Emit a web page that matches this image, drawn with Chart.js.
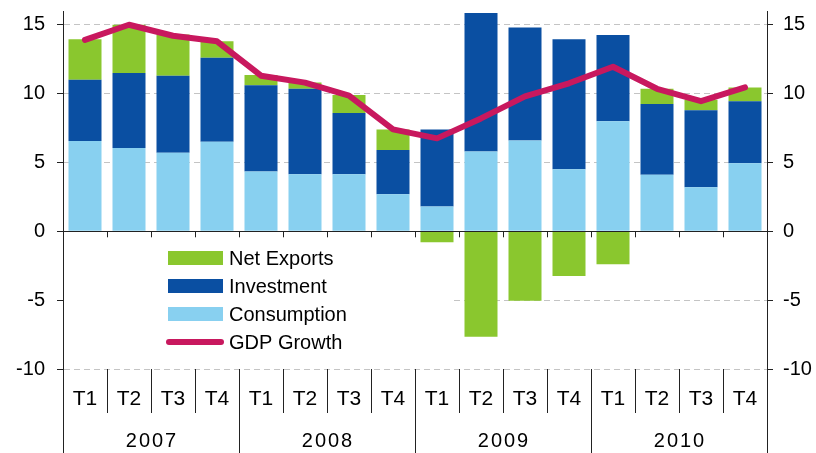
<!DOCTYPE html>
<html>
<head>
<meta charset="utf-8">
<script src="https://cdn.jsdelivr.net/npm/chart.js@4.4.1/dist/chart.umd.min.js"></script>
<style>
  html, body { margin: 0; padding: 0; background: #fff; }
  #wrap { width: 816px; height: 453px; }
</style>
</head>
<body>
<div id="wrap"><canvas id="gdp_chart"></canvas></div>
<script>
const QUARTERS = ['T1','T2','T3','T4','T1','T2','T3','T4','T1','T2','T3','T4','T1','T2','T3','T4'];
const YEARS = ['2007', '2008', '2009', '2010'];

// contributions to growth
const CONSUMPTION = [6.55, 6.05, 5.7, 6.5, 4.35, 4.15, 4.15, 2.7, 1.8, 5.8, 6.6, 4.5, 8.0, 4.1, 3.2, 4.95];
const INVESTMENT  = [4.45, 5.45, 5.6, 6.1, 6.25, 6.2, 4.45, 3.2, 5.6, 10.05, 8.2, 9.45, 6.25, 5.15, 5.6, 4.5];
const NET_EXPORTS = [2.95, 3.5, 3.0, 1.2, 0.75, 0.45, 1.3, 1.5, -0.8, -7.65, -5.05, -3.25, -2.4, 1.1, 0.75, 1.0];
const GDP_GROWTH  = [13.9, 15.0, 14.2, 13.8, 11.3, 10.8, 9.85, 7.4, 6.75, 8.2, 9.8, 10.75, 11.95, 10.35, 9.45, 10.45];

const Y_TICKS = [-10, -5, 0, 5, 10, 15];

const GREEN = '#8AC72E';
const DARK_BLUE = '#0A4FA2';
const LIGHT_BLUE = '#88D0F0';
const LINE_RED = '#C8185E';
const FONT = "'Liberation Sans', Arial, sans-serif";

const LEGEND = [
  { label: 'Net Exports', color: GREEN, type: 'box' },
  { label: 'Investment', color: DARK_BLUE, type: 'box' },
  { label: 'Consumption', color: LIGHT_BLUE, type: 'box' },
  { label: 'GDP Growth', color: LINE_RED, type: 'line' },
];

// legend box sits inside the plot and hides the grid behind it
const legendPlugin = {
  id: 'insideLegend',
  beforeDatasetsDraw(chart) {
    const ctx = chart.ctx;
    const a = chart.chartArea;
    ctx.save();
    ctx.fillStyle = '#fff';
    ctx.fillRect(a.left + 1, 239, 452 - a.left, 122);
    ctx.font = '20px ' + FONT;
    ctx.textBaseline = 'middle';
    ctx.textAlign = 'left';
    LEGEND.forEach((item, i) => {
      const cy = 258 + i * 28;
      if (item.type === 'box') {
        ctx.fillStyle = item.color;
        ctx.fillRect(168, cy - 7, 55, 14);
      } else {
        ctx.strokeStyle = item.color;
        ctx.lineWidth = 6;
        ctx.lineCap = 'round';
        ctx.beginPath();
        ctx.moveTo(169, cy);
        ctx.lineTo(221, cy);
        ctx.stroke();
      }
      ctx.fillStyle = '#000';
      ctx.fillText(item.label, 229, cy + 1);
    });
    ctx.restore();
  }
};

// zero line, quarter / year separators and year labels
const axisPlugin = {
  id: 'quarterAxis',
  afterDraw(chart) {
    const ctx = chart.ctx;
    const a = chart.chartArea;
    const x = chart.scales.x;
    const y0 = chart.scales.y.getPixelForValue(0);
    const w = (a.right - a.left) / QUARTERS.length;
    const H = chart.height;
    ctx.save();
    ctx.strokeStyle = '#222';
    ctx.lineWidth = 1;
    ctx.beginPath();
    ctx.moveTo(a.left, Math.round(y0) + 0.5);
    ctx.lineTo(a.right, Math.round(y0) + 0.5);
    for (let k = 1; k < QUARTERS.length; k++) {
      const px = Math.round(a.left + k * w) + 0.5;
      ctx.moveTo(px, y0);
      ctx.lineTo(px, y0 + 6);
      ctx.moveTo(px, a.bottom);
      ctx.lineTo(px, k % 4 === 0 ? H : a.bottom + 44);
    }
    ctx.moveTo(Math.round(a.left) + 0.5, a.bottom);
    ctx.lineTo(Math.round(a.left) + 0.5, H);
    ctx.moveTo(Math.round(a.right) + 0.5, a.bottom);
    ctx.lineTo(Math.round(a.right) + 0.5, H);
    ctx.stroke();

    ctx.fillStyle = '#000';
    ctx.font = '20px ' + FONT;
    ctx.letterSpacing = '2px';
    ctx.textAlign = 'center';
    ctx.textBaseline = 'middle';
    YEARS.forEach((yr, i) => {
      const cx = (x.getPixelForValue(i * 4) + x.getPixelForValue(i * 4 + 3)) / 2;
      ctx.fillText(yr, cx + 1, a.bottom + 72);
    });
    ctx.restore();
  }
};

const yTicks = {
  color: '#000',
  font: { family: FONT, size: 20 },
  stepSize: 5,
  includeBounds: false,
};

// fixed axis widths, and no extra room reserved for the end labels
function fitY(width) {
  return s => {
    s.width = width;
    s.paddingTop = 0;
    s.paddingBottom = 0;
  };
}

const ctx = document.getElementById('gdp_chart');
const myChart = new Chart(ctx, {
  type: 'bar',
  data: {
    labels: QUARTERS,
    datasets: [
      {
        label: 'Consumption',
        data: CONSUMPTION,
        backgroundColor: LIGHT_BLUE,
        order: 1,
      },
      {
        label: 'Investment',
        data: INVESTMENT,
        backgroundColor: DARK_BLUE,
        order: 1,
      },
      {
        label: 'Net Exports',
        data: NET_EXPORTS,
        backgroundColor: GREEN,
        order: 1,
      },
      {
        type: 'line',
        label: 'GDP Growth',
        data: GDP_GROWTH,
        stack: 'gdp',
        borderColor: LINE_RED,
        backgroundColor: LINE_RED,
        borderWidth: 6,
        borderCapStyle: 'round',
        borderJoinStyle: 'round',
        pointRadius: 0,
        tension: 0,
        order: 0,
      },
    ],
  },
  options: {
    responsive: true,
    maintainAspectRatio: false,
    animation: false,
    datasets: {
      bar: { barPercentage: 0.75, categoryPercentage: 1, borderWidth: 0 },
    },
    layout: { padding: { top: 11, left: 0, right: 0, bottom: 0 } },
    plugins: {
      legend: { display: false },
      tooltip: { enabled: false },
    },
    scales: {
      x: {
        stacked: true,
        offset: true,
        grid: { display: false, drawTicks: false },
        border: { display: false },
        ticks: {
          color: '#000',
          font: { family: FONT, size: 21 },
          padding: 18,
          maxRotation: 0,
          autoSkip: false,
        },
        afterFit: s => { s.height = 84; },
      },
      y: {
        stacked: true,
        min: -10,
        max: 16,
        position: 'left',
        afterBuildTicks: s => { s.ticks = Y_TICKS.map(v => ({ value: v })); },
        ticks: Object.assign({ padding: 12 }, yTicks),
        grid: {
          color: c => (c.tick && c.tick.value === 0 ? 'rgba(0,0,0,0)' : '#c4c4c4'),
          tickColor: '#222',
          tickLength: 6,
          borderDash: [6, 4],
        },
        border: { display: true, color: '#222', dash: [6, 4] },
        afterFit: fitY(63),
      },
      y2: {
        min: -10,
        max: 16,
        position: 'right',
        afterBuildTicks: s => { s.ticks = Y_TICKS.map(v => ({ value: v })); },
        ticks: Object.assign({ padding: 10 }, yTicks),
        grid: { drawOnChartArea: false, tickColor: '#222', tickLength: 6 },
        border: { display: true, color: '#222' },
        afterFit: fitY(49),
      },
    },
  },
  plugins: [legendPlugin, axisPlugin],
});
</script>
</body>
</html>
